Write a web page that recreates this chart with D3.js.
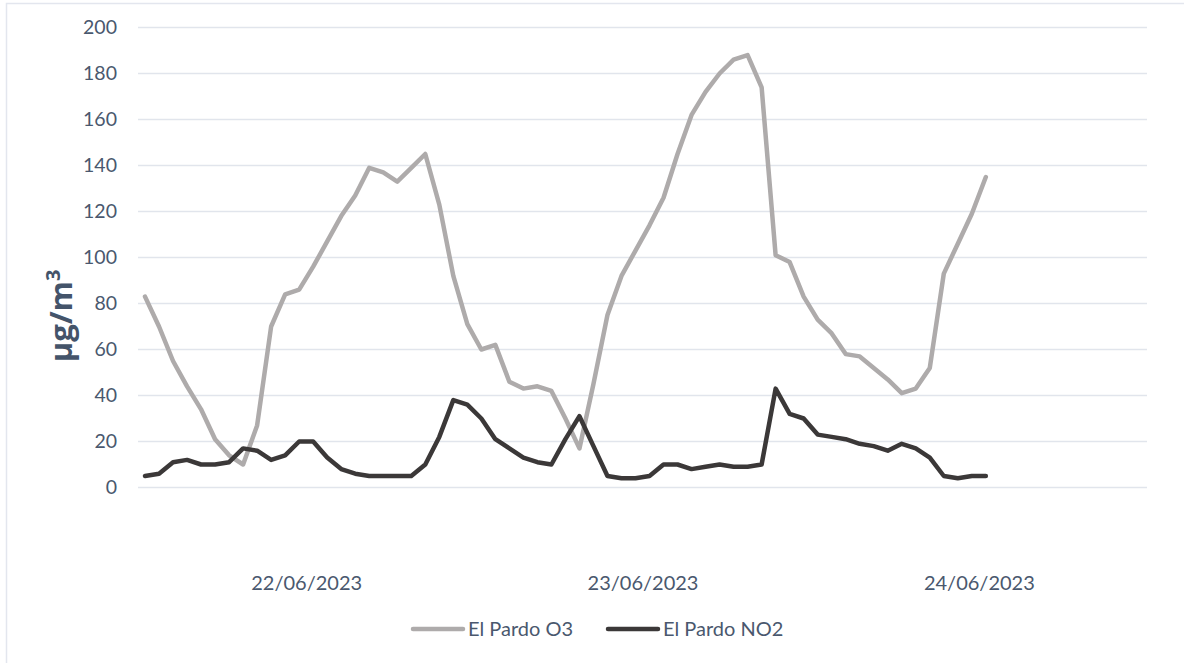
<!DOCTYPE html>
<html><head><meta charset="utf-8">
<script src="https://cdn.jsdelivr.net/npm/d3@7"></script>
<style>
html,body{margin:0;padding:0;background:#fff;}
svg{display:block;font-family:Lato,"Open Sans",sans-serif;}
</style></head>
<body><svg id="c" width="1184" height="663"></svg>
<script>
const o3 = [83,70,55,44,34,21,14,10,27,70,84,86,96,107,118,127,139,137,133,139,145,123,92,71,60,62,46,43,44,42,30,17,45,75,92,103,114,126,145,162,172,180,186,188,174,101,98,83,73,67,58,57,52,47,41,43,52,93,106,119,135];
const no2 = [5,6,11,12,10,10,11,17,16,12,14,20,20,13,8,6,5,5,5,5,10,22,38,36,30,21,17,13,11,10,21,31,18,5,4,4,5,10,10,8,9,10,9,9,10,43,32,30,23,22,21,19,18,16,19,17,13,5,4,5,5];
const yTicks = [0,20,40,60,80,100,120,140,160,180,200];
const dateLabels = ["22/06/2023","23/06/2023","24/06/2023"];
const dateLabelHours = [12,36,60];
const nCategories = 72;
const seriesNames = ["El Pardo O3","El Pardo NO2"];
const seriesColors = ["#AEABAB","#3B3838"];

const svg = d3.select("#c");
const textColor = "#4A586E";
// chart border
svg.append("rect").attr("x",6.5).attr("y",3.5).attr("width",1200).attr("height",700)
  .attr("fill","none").attr("stroke","#e3e6ee").attr("stroke-width",1.5);

const x = d3.scaleLinear().domain([0,nCategories]).range([138,1147]);
const y = d3.scaleLinear().domain([0,200]).range([487.5,27.5]);

// gridlines
svg.append("g").selectAll("line").data(yTicks).join("line")
  .attr("x1",138).attr("x2",1147).attr("y1",d=>y(d)).attr("y2",d=>y(d))
  .attr("stroke","#e1e5ec").attr("stroke-width",1.5);

// y axis
const yAxis = d3.axisLeft(y).tickValues(yTicks).tickSize(0).tickPadding(0);
const gy = svg.append("g").attr("transform","translate(117,0)").call(yAxis);
gy.select(".domain").remove();
gy.selectAll("text").attr("fill",textColor).style("font-size","19.5px").style("font-family","Lato,'Open Sans',sans-serif");

// y axis title
const yt = svg.append("text").attr("transform","translate(72,316) rotate(-90)")
  .attr("text-anchor","middle").attr("fill","#44546A")
  .style("font-size","31px").style("font-weight","bold").style("font-family","'Open Sans',Lato,sans-serif");
yt.append("tspan").text("µg/m");
yt.append("tspan").attr("dy",-12).style("font-size","20px").text("3");

// x labels
const xAxis = d3.axisBottom(x).tickValues(dateLabelHours).tickFormat((d,i)=>dateLabels[i]).tickSize(0).tickPadding(0);
const gx = svg.append("g").attr("transform","translate(0,576)").call(xAxis);
gx.select(".domain").remove();
gx.selectAll("text").attr("fill",textColor).style("font-size","20px").style("font-family","Lato,'Open Sans',sans-serif");

// lines
const line = d3.line().x((d,i)=>x(i+0.5)).y(d=>y(d));
[o3,no2].forEach((s,k)=>{
  svg.append("path").datum(s).attr("d",line).attr("fill","none")
    .attr("stroke",seriesColors[k]).attr("stroke-width",4.5)
    .attr("stroke-linejoin","round").attr("stroke-linecap","round");
});

// legend
const legX = [411,606];
seriesNames.forEach((n,k)=>{
  const g = svg.append("g").attr("transform",`translate(${legX[k]},629)`);
  g.append("line").attr("x1",2).attr("x2",52).attr("y1",0).attr("y2",0)
    .attr("stroke",seriesColors[k]).attr("stroke-width",4.5).attr("stroke-linecap","round");
  g.append("text").attr("x",57).attr("y",7).attr("fill",textColor)
    .style("font-size","20px").text(n);
});
</script></body></html>
